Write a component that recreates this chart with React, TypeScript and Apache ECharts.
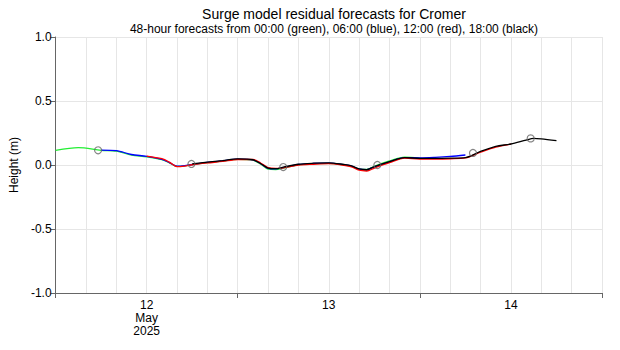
import React, { useEffect, useRef } from "react";
import * as echarts from "echarts";

// Hours since 12 May 2025 00:00
const greenHours = [0, 3, 6, 8, 10, 12, 14, 15, 16, 17, 18, 20, 22, 24, 26, 27, 28, 29, 30, 32, 34, 36, 38, 39, 40, 41, 42, 44, 46, 48];
const greenValues = [0.115, 0.135, 0.115, 0.108, 0.078, 0.064, 0.042, 0.017, -0.011, -0.007, 0.003, 0.018, 0.03, 0.044, 0.038, 0.008, -0.032, -0.035, -0.024, 0.002, 0.01, 0.013, 0.001, -0.01, -0.032, -0.034, -0.01, 0.032, 0.062, 0.054];

const blueHours = [6, 8, 10, 12, 14, 15, 16, 17, 18, 20, 22, 24, 26, 27, 28, 29, 30, 32, 34, 36, 38, 39, 40, 41, 42, 44, 46, 48, 50, 52, 54];
const blueValues = [0.116, 0.112, 0.082, 0.068, 0.044, 0.019, -0.009, -0.005, 0.004, 0.02, 0.032, 0.046, 0.04, 0.012, -0.026, -0.03, -0.02, 0.004, 0.012, 0.015, 0.003, -0.008, -0.032, -0.036, -0.014, 0.025, 0.058, 0.056, 0.06, 0.067, 0.078];

const redHours = [12, 14, 15, 16, 17, 18, 20, 22, 24, 26, 27, 28, 29, 30, 32, 34, 36, 38, 39, 40, 41, 42, 44, 46, 48, 50, 52, 54, 56, 58, 60];
const redValues = [0.07, 0.049, 0.022, -0.013, -0.008, 0.002, 0.016, 0.028, 0.043, 0.043, 0.016, -0.02, -0.026, -0.022, 0.0, 0.006, 0.01, -0.002, -0.014, -0.041, -0.047, -0.024, 0.018, 0.054, 0.047, 0.047, 0.049, 0.055, 0.1, 0.14, 0.163];

const blackHours = [18, 20, 22, 24, 26, 27, 28, 29, 30, 32, 34, 36, 38, 39, 40, 41, 42, 44, 46, 48, 50, 52, 54, 56, 58, 60, 62, 63, 64, 66];
const blackValues = [0.008, 0.022, 0.034, 0.048, 0.041, 0.012, -0.024, -0.029, -0.017, 0.006, 0.014, 0.017, 0.004, -0.006, -0.031, -0.037, -0.013, 0.026, 0.057, 0.052, 0.052, 0.054, 0.058, 0.106, 0.146, 0.164, 0.195, 0.208, 0.204, 0.19];

const circleHours = [5.6, 17.9, 30, 42.4, 55, 62.6];
const circleValues = [0.115, 0.008, -0.016, 0.0, 0.094, 0.208];

const dayLabels: Record<number, string> = { 12: "12\nMay\n2025", 36: "13", 60: "14" };
const yTicks = [-1, -0.5, 0, 0.5, 1];

const pairs = (h: number[], v: number[]) => h.map((x, i) => [x, v[i]]);

const FONT = "Liberation Sans, Arial, sans-serif";

export default function App() {
  const ref = useRef<HTMLDivElement>(null);
  useEffect(() => {
    if (!ref.current) return;
    const chart = echarts.init(ref.current, undefined, { renderer: "svg" });
    const lineSeries = (name: string, color: string, h: number[], v: number[]) => ({
      name,
      type: "line",
      xAxisIndex: 0,
      data: pairs(h, v),
      showSymbol: false,
      smooth: 0.3,
      lineStyle: { color, width: 1.3 },
      itemStyle: { color },
      z: 3,
    });
    chart.setOption({
      animation: false,
      textStyle: { fontFamily: FONT },
      title: [
        {
          text: "Surge model residual forecasts for Cromer",
          left: 329,
          top: 2,
          textAlign: "center",
          textStyle: { fontSize: 14, fontWeight: "normal", color: "#000", fontFamily: FONT },
        },
        {
          text: "48-hour forecasts from 00:00 (green), 06:00 (blue), 12:00 (red), 18:00 (black)",
          left: 329,
          top: 18,
          textAlign: "center",
          textStyle: { fontSize: 12, fontWeight: "normal", color: "#000", fontFamily: FONT },
        },
      ],
      grid: { left: 55, right: 18, top: 37, bottom: 57, containLabel: false },
      xAxis: [
        {
          type: "value",
          min: 0,
          max: 72,
          interval: 12,
          axisLine: { show: false },
          axisTick: { show: false },
          axisLabel: {
            show: true,
            margin: 5,
            color: "#000",
            fontSize: 12,
            lineHeight: 13,
            fontFamily: FONT,
            verticalAlign: "top",
            formatter: (val: number) => dayLabels[val] ?? "",
          },
          splitLine: { show: true, lineStyle: { color: "#e6e6e6", width: 1 } },
          minorTick: { show: false, splitNumber: 3 },
          minorSplitLine: { show: true, lineStyle: { color: "#e6e6e6", width: 1 } },
        },
        {
          type: "value",
          min: 0,
          max: 72,
          interval: 24,
          position: "bottom",
          axisLine: { show: true, onZero: false, lineStyle: { color: "#666", width: 1 } },
          axisTick: { show: true, length: 5, lineStyle: { color: "#666" } },
          axisLabel: { show: false },
          splitLine: { show: false },
        },
      ],
      yAxis: {
        type: "value",
        min: -1,
        max: 1,
        interval: 0.5,
        name: "Height (m)",
        nameLocation: "middle",
        nameGap: 30,
        nameTextStyle: { color: "#000", fontSize: 12, fontFamily: FONT },
        axisLine: { show: true, lineStyle: { color: "#666", width: 1 } },
        axisTick: { show: true, length: 5, lineStyle: { color: "#666" } },
        axisLabel: {
          color: "#000",
          fontSize: 12,
          margin: 4,
          fontFamily: FONT,
          formatter: (v: number) => (yTicks.includes(v) ? v.toFixed(1) : ""),
        },
        splitLine: { show: true, lineStyle: { color: "#e6e6e6", width: 1 } },
      },
      series: [
        lineSeries("00:00", "#22ee33", greenHours, greenValues),
        lineSeries("06:00", "#0000ff", blueHours, blueValues),
        lineSeries("12:00", "#ff0000", redHours, redValues),
        lineSeries("18:00", "#000000", blackHours, blackValues),
        {
          name: "obs",
          type: "scatter",
          xAxisIndex: 0,
          data: pairs(circleHours, circleValues),
          symbol: "circle",
          symbolSize: 7,
          itemStyle: { color: "rgba(0,0,0,0)", borderColor: "#666", borderWidth: 1.2 },
          z: 5,
        },
      ],
    });
    return () => chart.dispose();
  }, []);
  return (
    <div
      ref={ref}
      style={{ position: "fixed", left: 0, top: 0, width: 620, height: 350, background: "#fff" }}
    />
  );
}
